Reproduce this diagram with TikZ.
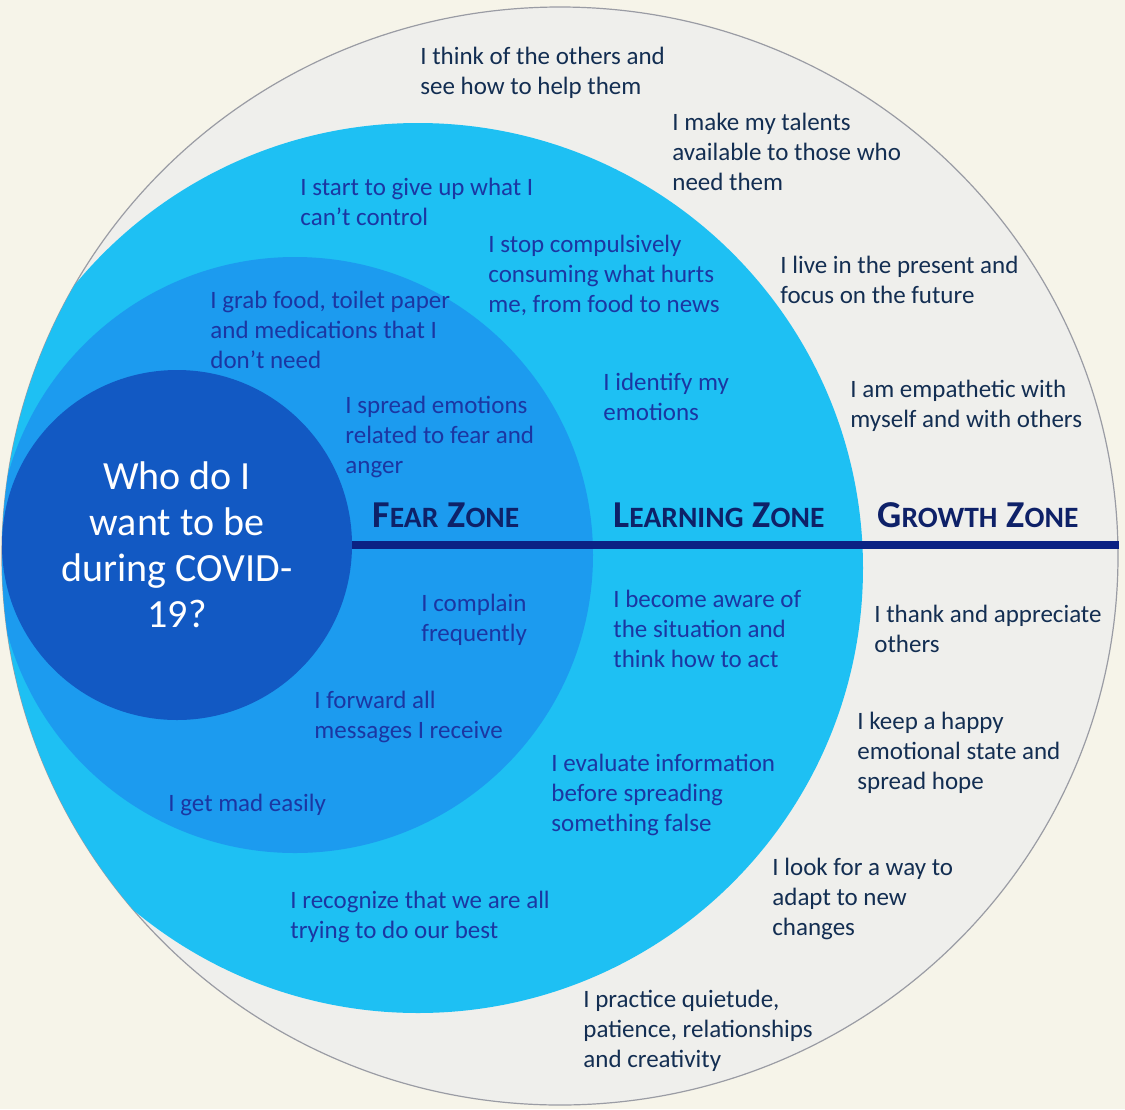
\documentclass[tikz,border=0pt]{standalone}
\usepackage{fontspec}
\setmainfont{Carlito}

\definecolor{bgcream}{HTML}{F6F4E9}
\definecolor{growthfill}{HTML}{EFEFEC}
\definecolor{rimgray}{HTML}{9A9CA4}
\definecolor{learnblue}{HTML}{1EC0F3}
\definecolor{fearblue}{HTML}{1C9BEF}
\definecolor{selfblue}{HTML}{1259C3}
\definecolor{growthink}{HTML}{132E52}
\definecolor{zoneink}{HTML}{1B36A2}
\definecolor{titleink}{HTML}{0E2168}
\definecolor{divider}{HTML}{0B2284}

% big first letter, small caps for the rest
\newcommand{\zonecap}[2]{{\fontsize{19}{19}\selectfont #1}{\fontsize{14.75}{19}\selectfont #2}}

\begin{document}
\begin{tikzpicture}[x=0.5pt,y=-0.5pt]
            \tikzstyle{growth text}=[anchor=north west,inner sep=0,align=left,text=growthink,font=\fontsize{12.5}{15}\selectfont];
            \tikzstyle{zone text}=[anchor=north west,inner sep=0,align=left,text=zoneink,font=\fontsize{12.5}{15}\selectfont];
            \tikzstyle{zone title}=[anchor=base west,inner sep=0,text=titleink,font=\bfseries];
            \useasboundingbox (0,0) rectangle (1125,1109);
            \fill[bgcream] (0,0) rectangle (1125,1109);
            \filldraw[fill=growthfill,draw=rimgray,line width=0.6pt] (560,556) ellipse [x radius=279pt,y radius=274.5pt];
            \begin{scope}
            \clip (560,556) ellipse [x radius=279pt,y radius=274.5pt];
            \fill[learnblue] (418,568) circle [radius=222.5pt];
            \fill[fearblue] (295,555) circle [radius=149pt];
            \end{scope}
            \node[circle,fill=selfblue,minimum size=175pt,inner sep=0,text=white,align=center,font=\fontsize{20}{23}\selectfont] (who) at (177,545) {Who do I\\want to be\\during COVID-\\19?};
            \coordinate (rim) at (1119,545);
            \draw[divider,line width=4pt] (who.east)--(rim);
            % zone titles
            \node[zone title] (fear) at (372,527) {\zonecap{F}{EAR}\hspace{4.5pt}\zonecap{Z}{ONE}};
            \node[zone title] (learning) at (613,527) {\zonecap{L}{EARNING}\hspace{4.5pt}\zonecap{Z}{ONE}};
            \node[zone title] (growth) at (877,527) {\zonecap{G}{ROWTH}\hspace{4.5pt}\zonecap{Z}{ONE}};
            % growth zone
            \node[growth text] (help) at (420,47) {I think of the others and\\see how to help them};
            \node[growth text] (talents) at (672,113) {I make my talents\\available to those who\\need them};
            \node[growth text] (present) at (780,256) {I live in the present and\\focus on the future};
            \node[growth text] (empathy) at (850,380) {I am empathetic with\\myself and with others};
            \node[growth text] (thank) at (874,605) {I thank and appreciate\\others};
            \node[growth text] (happy) at (857,712) {I keep a happy\\emotional state and\\spread hope};
            \node[growth text] (adapt) at (772,858) {I look for a way to\\adapt to new\\changes};
            \node[growth text] (quiet) at (583,990) {I practice quietude,\\patience, relationships\\and creativity};
            % learning zone
            \node[zone text] (giveup) at (300,178) {I start to give up what I\\can't control};
            \node[zone text] (compulsive) at (488,235) {I stop compulsively\\consuming what hurts\\me, from food to news};
            \node[zone text] (identify) at (603,373) {I identify my\\emotions};
            \node[zone text] (aware) at (613,590) {I become aware of\\the situation and\\think how to act};
            \node[zone text] (evaluate) at (551,754) {I evaluate information\\before spreading\\something false};
            \node[zone text] (recognize) at (290,891) {I recognize that we are all\\trying to do our best};
            % fear zone
            \node[zone text] (grab) at (210,291) {I grab food, toilet paper\\and medications that I\\don't need};
            \node[zone text] (spread) at (345,396) {I spread emotions\\related to fear and\\anger};
            \node[zone text] (complain) at (421,594) {I complain\\frequently};
            \node[zone text] (forward) at (314,691) {I forward all\\messages I receive};
            \node[zone text] (mad) at (168,794) {I get mad easily};
            \end{tikzpicture}
\end{document}
